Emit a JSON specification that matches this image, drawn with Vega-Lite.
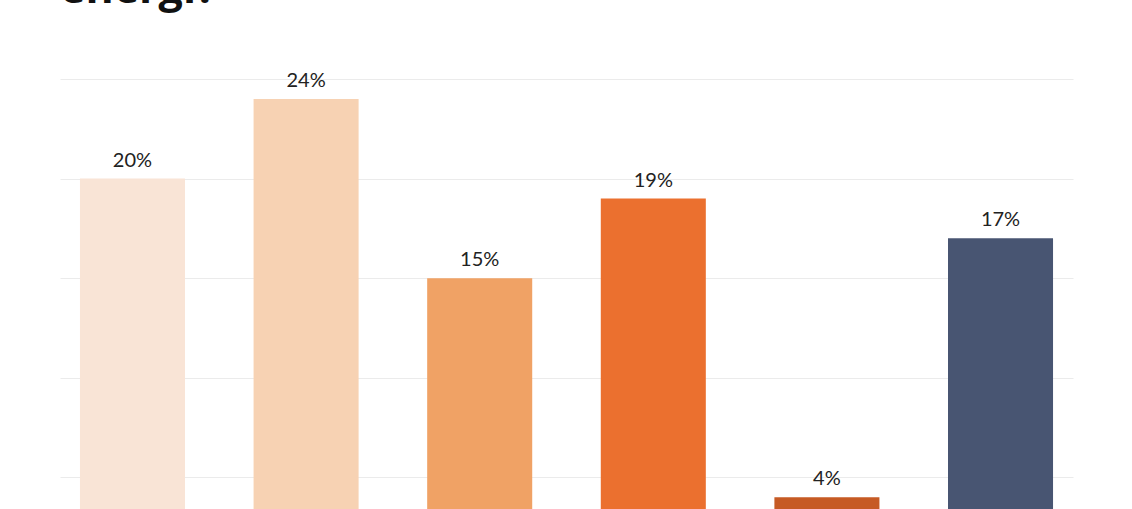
{
  "$schema": "https://vega.github.io/schema/vega-lite/v6.json",
  "autosize": "none",
  "width": 1013,
  "height": 498,
  "padding": {"top": 79, "left": 60, "right": 59, "bottom": 0},
  "background": "white",
  "title": {
    "text": "energi?",
    "anchor": "start",
    "frame": "group",
    "font": "Open Sans",
    "fontSize": 43,
    "fontWeight": "bold",
    "color": "#111111",
    "baseline": "alphabetic",
    "offset": 25
  },
  "data": {
    "values": [
      {"kategori": "Kategori 1", "andel": 20, "label": "20%"},
      {"kategori": "Kategori 2", "andel": 24, "label": "24%"},
      {"kategori": "Kategori 3", "andel": 15, "label": "15%"},
      {"kategori": "Kategori 4", "andel": 19, "label": "19%"},
      {"kategori": "Kategori 5", "andel": 4, "label": "4%"},
      {"kategori": "Kategori 6", "andel": 17, "label": "17%"}
    ]
  },
  "encoding": {
    "x": {
      "field": "kategori",
      "type": "nominal",
      "sort": null,
      "axis": null,
      "scale": {"paddingInner": 0.395, "paddingOuter": 0.115}
    },
    "y": {
      "field": "andel",
      "type": "quantitative",
      "scale": {"domain": [0, 25], "nice": false},
      "axis": {
        "grid": true,
        "gridColor": "#EBEBEB",
        "gridWidth": 1,
        "domain": false,
        "ticks": false,
        "labels": false,
        "title": null,
        "values": [0, 5, 10, 15, 20, 25]
      }
    }
  },
  "layer": [
    {
      "mark": {"type": "bar"},
      "encoding": {
        "color": {
          "field": "kategori",
          "type": "nominal",
          "sort": null,
          "legend": null,
          "scale": {
            "domain": ["Kategori 1", "Kategori 2", "Kategori 3", "Kategori 4", "Kategori 5", "Kategori 6"],
            "range": ["#F9E4D6", "#F7D2B3", "#F0A265", "#EB702F", "#C65A24", "#485572"]
          }
        }
      }
    },
    {
      "mark": {
        "type": "text",
        "baseline": "alphabetic",
        "dy": -12,
        "font": "Lato",
        "fontSize": 20,
        "color": "#222222"
      },
      "encoding": {"text": {"field": "label"}}
    }
  ],
  "config": {"view": {"stroke": null}}
}
